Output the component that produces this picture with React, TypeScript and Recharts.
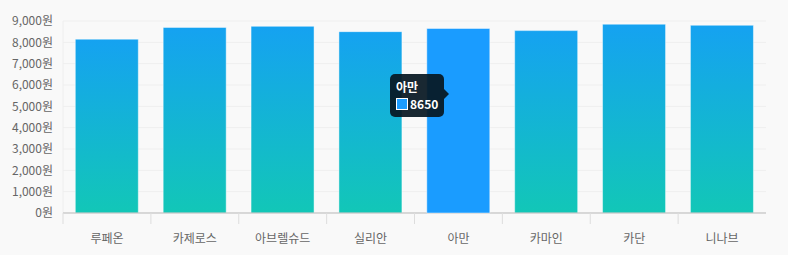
import { Bar, BarChart, CartesianGrid, Cell, Tooltip, XAxis, YAxis } from "recharts"

const servers = ["루페온", "카제로스", "아브렐슈드", "실리안", "아만", "카마인", "카단", "니나브"]
const prices = [8150, 8700, 8750, 8500, 8650, 8550, 8850, 8800]
const yTicks = [0, 1000, 2000, 3000, 4000, 5000, 6000, 7000, 8000, 9000]
const activeIndex = 4

const data = servers.map((name, i) => ({ name, price: prices[i] }))

const FONT = '"Noto Sans CJK KR", "Noto Sans", sans-serif'
const BAND = (788 - 63 - 22) / servers.length

// x ticks sit at the category boundaries, not centres
function XTick({ x, y, payload }: any) {
  return (
    <g>
      <line x1={x - BAND / 2} x2={x - BAND / 2} y1={y - 8} y2={y + 3} stroke="#ddd" />
      <text x={x} y={y + 22} textAnchor="middle" fill="#666" fontSize={12} fontFamily={FONT}>
        {payload.value}
      </text>
    </g>
  )
}

function TipBox({ active, payload, label }: any) {
  if (!active || !payload || !payload.length) return null
  return (
    <div
      style={{
        position: "relative",
        background: "rgba(8, 24, 34, 0.93)",
        color: "#fff",
        borderRadius: 5,
        padding: "4px 6px 5px 6px",
        fontFamily: FONT,
        fontSize: 12,
        fontWeight: 700,
        lineHeight: "17px",
      }}
    >
      <div>{label}</div>
      <div style={{ display: "flex", alignItems: "center" }}>
        <span
          style={{
            display: "inline-block",
            width: 10,
            height: 10,
            background: "#1a9cff",
            border: "1px solid #fff",
            marginRight: 2,
          }}
        />
        {payload[0].value}
      </div>
      <div
        style={{
          position: "absolute",
          right: -5,
          top: 15,
          width: 0,
          height: 0,
          borderTop: "5px solid transparent",
          borderBottom: "5px solid transparent",
          borderLeft: "5px solid rgba(8, 24, 34, 0.93)",
        }}
      />
    </div>
  )
}

export default function App() {
  return (
    <div style={{ position: "fixed", left: 0, top: 0, width: 788, height: 255, background: "#f9f9f9" }}>
      <BarChart
        width={788}
        height={255}
        data={data}
        margin={{ top: 21, right: 22, bottom: 12, left: 0 }}
        barCategoryGap="14%"
      >
        <defs>
          <linearGradient id="barFill" x1="0" y1="0" x2="0" y2="1">
            <stop offset="0%" stopColor="#15a2f1" />
            <stop offset="100%" stopColor="#12c7b7" />
          </linearGradient>
        </defs>
        <CartesianGrid vertical={false} stroke="#efefef" />
        <YAxis
          width={63}
          domain={[0, 9000]}
          ticks={yTicks}
          interval={0}
          tickLine={false}
          axisLine={{ stroke: "#eeeeee" }}
          tickMargin={4}
          tickFormatter={(v: number) => v.toLocaleString("en-US") + "원"}
          tick={{ fill: "#666", fontSize: 12, fontFamily: FONT }}
        />
        <XAxis
          dataKey="name"
          height={30}
          tickLine={false}
          axisLine={{ stroke: "#bbbbbb" }}
          interval={0}
          tick={<XTick />}
        />
        <Tooltip
          active
          defaultIndex={activeIndex}
          cursor={false}
          isAnimationActive={false}
          position={{ x: 390, y: 74 }}
          content={<TipBox />}
          wrapperStyle={{ outline: "none" }}
        />
        <Bar
          dataKey="price"
          isAnimationActive={false}
          stroke="rgba(255,255,255,0.45)"
          strokeWidth={1}
          activeBar={{ fill: "#1a9cff" }}
        >
          {data.map((d, i) => (
            <Cell key={d.name} fill={i === activeIndex ? "#1a9cff" : "url(#barFill)"} />
          ))}
        </Bar>
      </BarChart>
    </div>
  )
}
